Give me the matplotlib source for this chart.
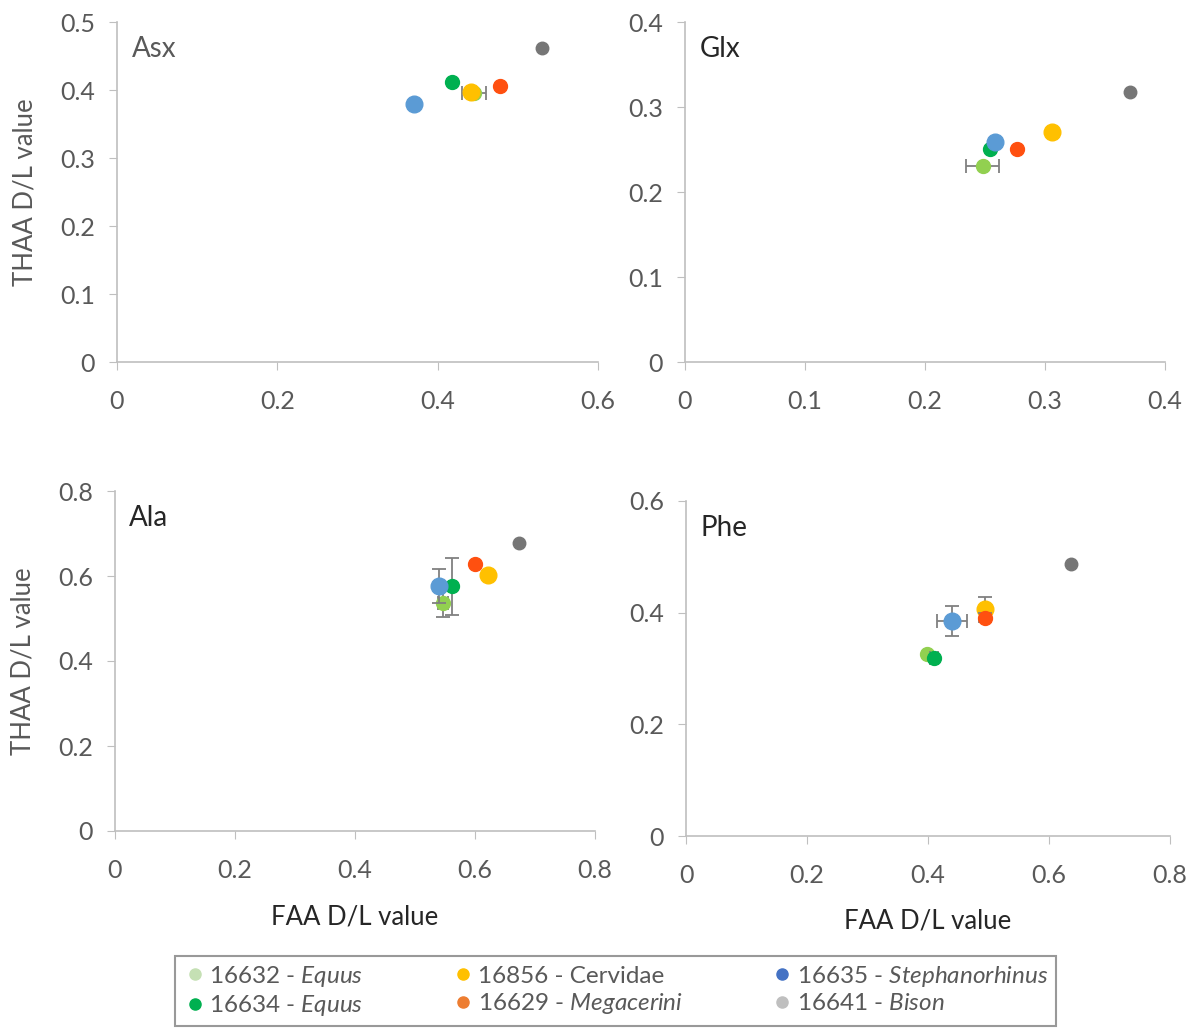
import matplotlib.pyplot as plt
from matplotlib.lines import Line2D

plt.rcParams['font.family'] = ['Lato', 'DejaVu Sans']
plt.rcParams['mathtext.fontset'] = 'custom'
plt.rcParams['mathtext.rm'] = 'Lato'
plt.rcParams['mathtext.it'] = 'Lato:italic'

samples = ['16632', '16634', '16856', '16635', '16629', '16641']
colors = ['#92D050', '#00B050', '#FFC000', '#5B9BD5', '#FF5010', '#767676']
sizes = [10, 10, 12, 12, 10, 9]

# FAA x, THAA y, x error, y error  (order = samples)
asx_x = [0.445, 0.418, 0.442, 0.370, 0.478, 0.530]
asx_y = [0.395, 0.412, 0.397, 0.379, 0.406, 0.462]
asx_xerr = [0.015, 0, 0, 0, 0, 0]
asx_yerr = [0, 0, 0, 0, 0, 0]

glx_x = [0.248, 0.254, 0.306, 0.258, 0.277, 0.371]
glx_y = [0.231, 0.251, 0.271, 0.259, 0.251, 0.318]
glx_xerr = [0.014, 0, 0, 0, 0, 0]
glx_yerr = [0, 0, 0, 0, 0, 0]

ala_x = [0.547, 0.562, 0.622, 0.540, 0.600, 0.673]
ala_y = [0.536, 0.576, 0.602, 0.576, 0.628, 0.678]
ala_xerr = [0.008, 0, 0, 0, 0, 0]
ala_yerr = [0.033, 0.067, 0, 0.040, 0, 0]

phe_x = [0.398, 0.410, 0.494, 0.440, 0.494, 0.636]
phe_y = [0.326, 0.319, 0.407, 0.385, 0.391, 0.487]
phe_xerr = [0, 0.007, 0, 0.025, 0, 0]
phe_yerr = [0, 0, 0.021, 0.027, 0.008, 0]

panels = [
    ('Asx', asx_x, asx_y, asx_xerr, asx_yerr, 0.6, [0, 0.2, 0.4, 0.6], 0.5, [0, 0.1, 0.2, 0.3, 0.4, 0.5]),
    ('Glx', glx_x, glx_y, glx_xerr, glx_yerr, 0.4, [0, 0.1, 0.2, 0.3, 0.4], 0.4, [0, 0.1, 0.2, 0.3, 0.4]),
    ('Ala', ala_x, ala_y, ala_xerr, ala_yerr, 0.8, [0, 0.2, 0.4, 0.6, 0.8], 0.8, [0, 0.2, 0.4, 0.6, 0.8]),
    ('Phe', phe_x, phe_y, phe_xerr, phe_yerr, 0.8, [0, 0.2, 0.4, 0.6, 0.8], 0.6, [0, 0.2, 0.4, 0.6]),
]

W, H = 1197, 1028
boxes = [(117, 598, 22, 362), (685, 1165, 22, 362), (115, 595, 491, 831), (686, 1170, 501, 836)]

fig = plt.figure(figsize=(W / 100, H / 100), dpi=100)
grey = '#595959'

for i, (name, xs, ys, xe, ye, xmax, xt, ymax, yt) in enumerate(panels):
    l, r, t, b = boxes[i]
    ax = fig.add_axes([l / W, 1 - b / H, (r - l) / W, (b - t) / H])
    for j in range(len(samples)):
        ax.errorbar(xs[j], ys[j], xerr=xe[j] if xe[j] else None, yerr=ye[j] if ye[j] else None,
                    fmt='o', color=colors[j], ms=sizes[j], ecolor='#808080', elinewidth=1.3,
                    capsize=5, capthick=1.3, mec=colors[j], zorder=3 + j)
    ax.set_xlim(0, xmax)
    ax.set_ylim(0, ymax)
    ax.set_xticks(xt)
    ax.set_yticks(yt)
    ax.set_xticklabels(['%g' % v for v in xt])
    ax.set_yticklabels(['%g' % v for v in yt])
    for s in ['top', 'right']:
        ax.spines[s].set_visible(False)
    for s in ['left', 'bottom']:
        ax.spines[s].set_color('#BFBFBF')
        ax.spines[s].set_linewidth(1.2)
    ax.tick_params(colors='#BFBFBF', labelcolor=grey, labelsize=18, length=6, direction='out')
    ax.tick_params(axis='x', pad=14)
    ax.tick_params(axis='y', pad=10)
    ax.text(0.03, 0.92, name, transform=ax.transAxes, fontsize=20,
            color=grey if name == 'Asx' else '#262626', va='center')
    if i in (0, 2):
        ax.set_ylabel('THAA D/L value', fontsize=18.5, color=grey, labelpad=16)
    if i in (2, 3):
        ax.set_xlabel('FAA D/L value', fontsize=18.5, color='#262626', labelpad=16)

leg_colors = ['#C5E0B4', '#00B050', '#FFC000', '#ED7D31', '#4472C4', '#BFBFBF']
leg_labels = ['16632 - $\\it{Equus}$', '16634 - $\\it{Equus}$', '16856 - Cervidae',
              '16629 - $\\it{Megacerini}$', '16635 - $\\it{Stephanorhinus}$', '16641 - $\\it{Bison}$']
handles = [Line2D([], [], ls='none', marker='o', ms=8, color=c) for c in leg_colors]
leg = fig.legend(handles, leg_labels, ncol=3, loc='center',
                 bbox_to_anchor=(615.5 / W, 1 - 991 / H), fontsize=17.5, frameon=True,
                 fancybox=False, edgecolor='#808080', handletextpad=0.1, columnspacing=3.6,
                 labelspacing=0.2, borderpad=0.3, handlelength=1.0)
leg.get_frame().set_linewidth(1.5)
for t in leg.get_texts():
    t.set_color(grey)

fig.savefig('out.png', dpi=100)
